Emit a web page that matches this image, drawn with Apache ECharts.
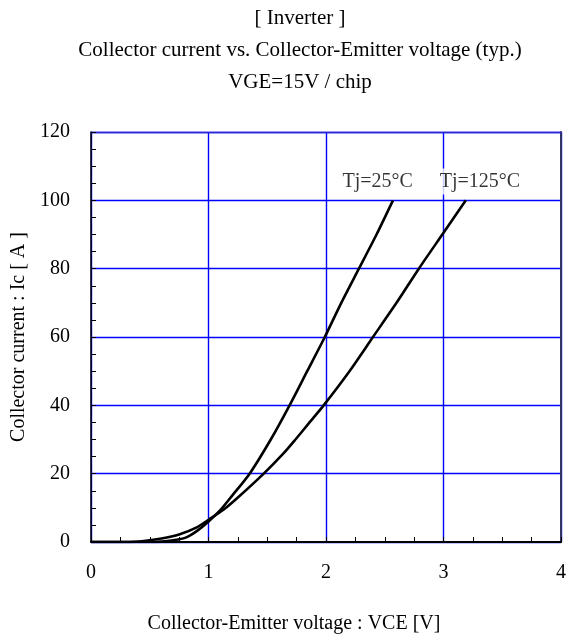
<!DOCTYPE html>
<html><head><meta charset="utf-8">
<script src="https://cdn.jsdelivr.net/npm/echarts@6/dist/echarts.min.js"></script>
<style>html,body{margin:0;padding:0;background:#fff}#c{width:572px;height:634px}</style>
</head><body><div id="c"></div>
<script>
var titleLines = ['[ Inverter ]', 'Collector current vs. Collector-Emitter voltage (typ.)', 'VGE=15V / chip'];
var xName = 'Collector-Emitter voltage : VCE [V]';
var yName = 'Collector current : Ic [ A ]';
var vce25 = [0, 0.5, 0.6, 0.7, 0.8, 0.9, 1.0, 1.1, 1.2, 1.35, 1.53, 1.69, 1.84, 1.99, 2.13, 2.28, 2.43, 2.57];
var ic25  = [0, 0, 0.1, 0.5, 1.2, 3.2, 6.0, 9.3, 13.5, 20, 30, 40, 50, 60, 70, 80, 90, 100];
var vce125 = [0, 0.3, 0.45, 0.6, 0.75, 0.9, 1.0, 1.13, 1.25, 1.47, 1.64, 1.74, 1.86, 1.98, 2.2, 2.4, 2.6, 2.79, 2.99, 3.19];
var ic125  = [0, 0, 0.3, 1.0, 2.2, 4.3, 6.5, 9.5, 13, 20, 26, 30, 35, 40, 50, 60, 70, 80, 90, 100];
var curveLabels = ['Tj=25°C', 'Tj=125°C'];
var labelX = [2.44, 3.31];
var labelY = [105.5, 105.5];

function pairs(xs, ys){ return xs.map(function(x,i){return [x, ys[i]];}); }
var FONT = '"Liberation Serif","Times New Roman",serif';
var chart = echarts.init(document.getElementById('c'), null, {renderer:'canvas'});
var titleTops = [8, 40, 72];
chart.setOption({
  backgroundColor:'#fff',
  animation:false,
  title: titleLines.map(function(t,i){return {text:t, left:300, textAlign:'center', top:titleTops[i], padding:0,
    textStyle:{fontFamily:FONT, fontSize:21, fontWeight:'normal', color:'#000'}};}),
  grid:{left:91, right:11, top:132, bottom:92, containLabel:false, outerBoundsMode:'none'},
  xAxis:[{
    type:'value', min:0, max:4, interval:1, position:'bottom',
    name:xName, nameLocation:'middle', nameGap:72,
    nameTextStyle:{fontFamily:FONT, fontSize:20, color:'#000', padding:[0,64,0,0]},
    axisLine:{show:true, onZero:false, lineStyle:{color:'#000', width:2}},
    axisTick:{show:true, inside:true, length:5, lineStyle:{color:'#000'}},
    minorTick:{show:true, splitNumber:4, length:5, lineStyle:{color:'#000'}},
    axisLabel:{fontFamily:FONT, fontSize:20, color:'#000', margin:21},
    splitLine:{show:true, lineStyle:{color:'#0000ff', width:1.4}}
  },{
    type:'value', min:0, max:4, position:'top',
    axisLine:{show:true, onZero:false, lineStyle:{color:'#2a2ad0', width:1.4}},
    axisTick:{show:false}, axisLabel:{show:false}, splitLine:{show:false}
  }],
  yAxis:[{
    type:'value', min:0, max:120, interval:20, position:'left',
    name:yName, nameLocation:'middle', nameGap:62,
    nameTextStyle:{fontFamily:FONT, fontSize:20, color:'#000'},
    axisLine:{show:true, onZero:false, lineStyle:{color:'#000', width:1.5}},
    axisTick:{show:true, inside:true, length:5, lineStyle:{color:'#000'}},
    minorTick:{show:true, splitNumber:4, length:5, lineStyle:{color:'#000'}},
    axisLabel:{fontFamily:FONT, fontSize:20, color:'#000', margin:21},
    splitLine:{show:true, lineStyle:{color:'#0000ff', width:1.4}}
  },{
    type:'value', min:0, max:120, position:'right',
    axisLine:{show:true, onZero:false, lineStyle:{color:'#333366', width:2}},
    axisTick:{show:false}, axisLabel:{show:false}, splitLine:{show:false}
  }],
  series:[
    {type:'line', data:pairs(vce25, ic25), showSymbol:false, smooth:0.25,
     lineStyle:{color:'#000', width:2.6}, z:5},
    {type:'line', data:pairs(vce125, ic125), showSymbol:false, smooth:0.25,
     lineStyle:{color:'#000', width:2.6}, z:5},
    {type:'scatter', symbolSize:0, z:6,
     data:curveLabels.map(function(t,i){return {value:[labelX[i], labelY[i]], name:t};}),
     label:{show:true, position:'inside', formatter:'{b}', fontFamily:FONT, fontSize:20, color:'#000',
       textBorderWidth:0, backgroundColor:'#fff', padding:[3,2]}}
  ]
});
</script></body></html>
